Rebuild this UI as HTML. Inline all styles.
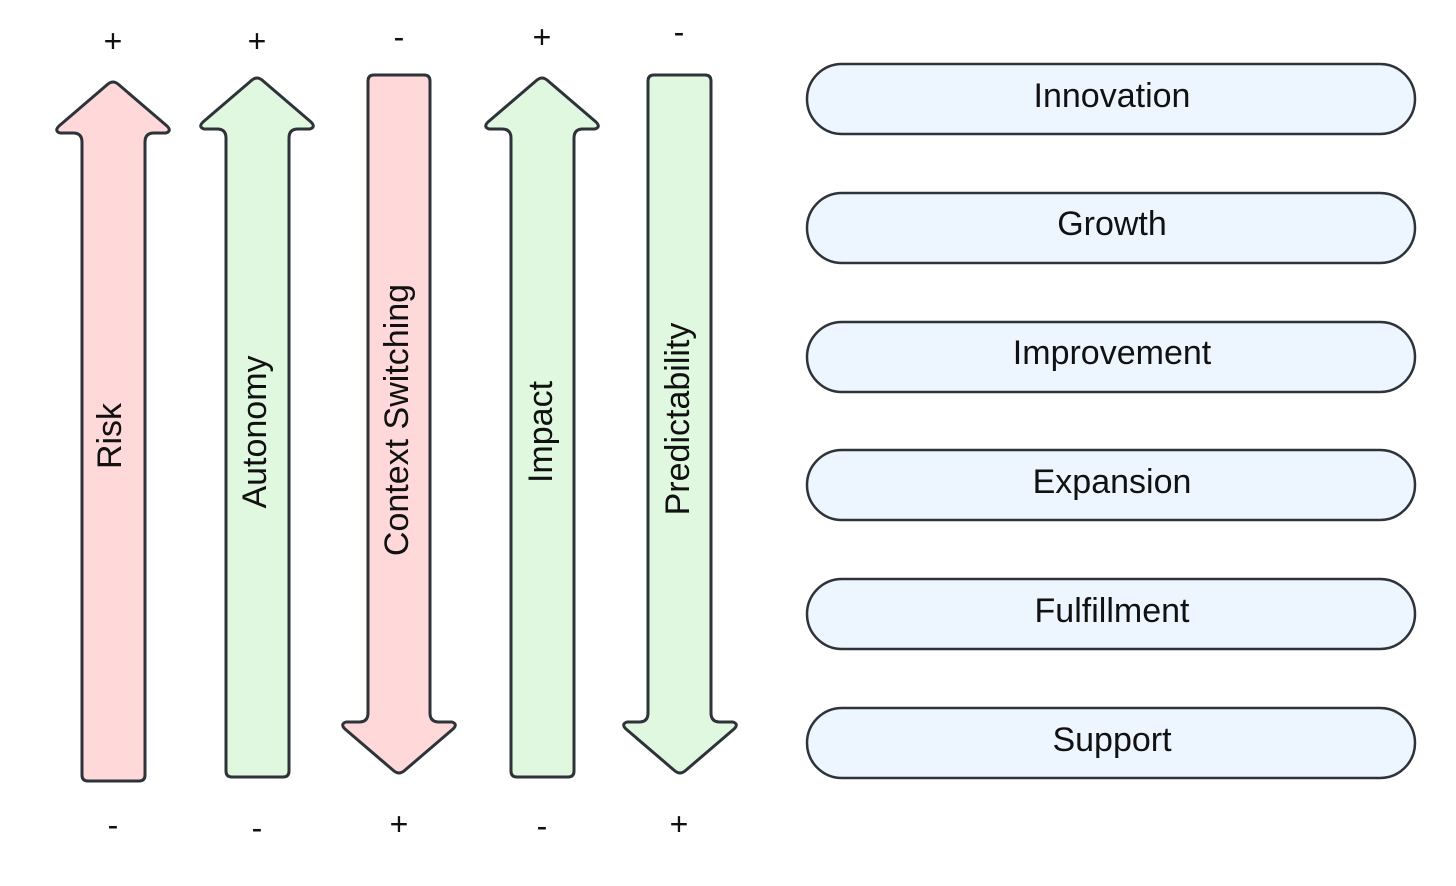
<!DOCTYPE html>
<html><head><style>body{margin:0;background:#fff}</style></head><body>
<svg width="1456" height="881" xmlns="http://www.w3.org/2000/svg" font-family="Liberation Sans, sans-serif">
<g stroke="#2d3339" stroke-width="3" stroke-linejoin="round">
<path d="M82,775 Q82,781 88,781 L139,781 Q145,781 145,775 L145,142 Q145,133 154,133 L166,133 Q172,131 167,126 L118,84 Q113,80 108,84 L59,126 Q54,131 60,133 L73,133 Q82,133 82,142 Z" fill="#ffd9d9"/>
<path d="M226,771 Q226,777 232,777 L283,777 Q289,777 289,771 L289,138 Q289,129 298,129 L310,129 Q316,127 311,122 L262,80 Q257,76 252,80 L203,122 Q198,127 204,129 L217,129 Q226,129 226,138 Z" fill="#e0f8e0"/>
<path d="M511,771 Q511,777 517,777 L568,777 Q574,777 574,771 L574,138 Q574,129 583,129 L595,129 Q601,127 596,122 L547,80 Q542,76 537,80 L488,122 Q483,127 489,129 L502,129 Q511,129 511,138 Z" fill="#e0f8e0"/>
<path d="M368,81 Q368,75 374,75 L424,75 Q430,75 430,81 L430,713 Q430,722 439,722 L452,722 Q458,724 453,729 L404,771 Q399,775 394,771 L345,729 Q340,724 346,722 L359,722 Q368,722 368,713 Z" fill="#ffd9d9"/>
<path d="M648,81 Q648,75 654,75 L705,75 Q711,75 711,81 L711,713 Q711,722 720,722 L733,722 Q739,724 734,729 L685,771 Q680,775 675,771 L626,729 Q621,724 627,722 L639,722 Q648,722 648,713 Z" fill="#e0f8e0"/>
<g fill="#edf5ff" stroke-width="2.5">
<rect x="807" y="64" width="608" height="70" rx="35"/>
<rect x="807" y="193" width="608" height="70" rx="35"/>
<rect x="807" y="322" width="608" height="70" rx="35"/>
<rect x="807" y="450" width="608" height="70" rx="35"/>
<rect x="807" y="579" width="608" height="70" rx="35"/>
<rect x="807" y="708" width="608" height="70" rx="35"/>
</g></g>
<g font-size="34" text-anchor="middle" fill="#111">
<text x="1112" y="107">Innovation</text>
<text x="1112" y="235">Growth</text>
<text x="1112" y="364">Improvement</text>
<text x="1112" y="493">Expansion</text>
<text x="1112" y="622">Fulfillment</text>
<text x="1112" y="751">Support</text>
<text transform="translate(121,436) rotate(-90)">Risk</text>
<text transform="translate(266,432) rotate(-90)">Autonomy</text>
<text transform="translate(408,420) rotate(-90)">Context Switching</text>
<text transform="translate(552,432) rotate(-90)">Impact</text>
<text transform="translate(689,419) rotate(-90)">Predictability</text>
</g>
<g font-size="32" text-anchor="middle" fill="#111">
<text x="113" y="52">+</text><text x="257" y="52">+</text><text x="399" y="48">-</text><text x="542" y="48">+</text><text x="679" y="43">-</text>
<text x="113" y="836">-</text><text x="257" y="839">-</text><text x="399" y="835">+</text><text x="542" y="837">-</text><text x="679" y="835">+</text>
</g>
</svg>
</body></html>
